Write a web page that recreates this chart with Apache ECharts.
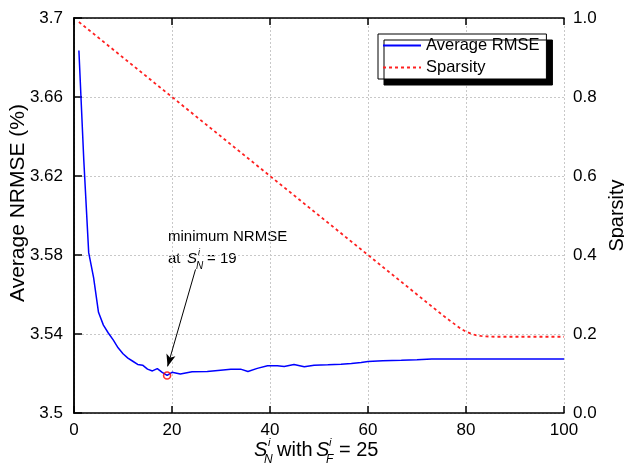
<!DOCTYPE html>
<html>
<head>
<meta charset="utf-8">
<script src="https://cdn.jsdelivr.net/npm/echarts@6/dist/echarts.min.js"></script>
<style>html,body{margin:0;padding:0;background:#fff}#c{width:624px;height:468px}</style>
</head>
<body>
<div id="c"></div>
<script>
// ---- data ----
const rmseX = [1, 2, 3, 4, 5, 6, 7, 8, 9, 10, 11, 12, 13, 14, 15, 16, 17, 18, 19, 20, 21.7, 24.1, 27.2, 29.9, 32, 34, 35.5, 37.4, 39.5, 41.5, 42.9, 44.9, 47, 49, 51.8, 54.5, 56.6, 58.6, 60, 63, 66.8, 70, 73, 80, 90, 100];
const rmseY = [3.6835, 3.628, 3.5812, 3.5685, 3.551, 3.5445, 3.5405, 3.5370, 3.5330, 3.5300, 3.5278, 3.5262, 3.5246, 3.5242, 3.5222, 3.5213, 3.5225, 3.5206, 3.5190, 3.5206, 3.5197, 3.5209, 3.5210, 3.5217, 3.5222, 3.5222, 3.5210, 3.5226, 3.5239, 3.5239, 3.5236, 3.5246, 3.5234, 3.5242, 3.5244, 3.5247, 3.5251, 3.5256, 3.5261, 3.5264, 3.5267, 3.5270, 3.5274, 3.5273, 3.5273, 3.5273];
const sparX = [1, 20, 75, 77, 78, 79, 80, 81, 82, 83, 84, 86, 100];
const sparY = [0.99, 0.80, 0.25, 0.231, 0.222, 0.213, 0.206, 0.201, 0.197, 0.195, 0.194, 0.193, 0.193];
const xTicks = [0, 20, 40, 60, 80, 100];
const yLeftTicks = [3.5, 3.54, 3.58, 3.62, 3.66, 3.7];
const yRightTicks = [0.0, 0.2, 0.4, 0.6, 0.8, 1.0];
const seriesNames = ['Average RMSE', 'Sparsity'];
const yLeftTitle = 'Average NRMSE (%)';
const yRightTitle = 'Sparsity';
// annotation arrow (data coordinates): tail and head
const arrowTail = [24.8, 3.5727];
const arrowHead = [19.1, 3.5236];

const FONT = 'Liberation Sans';
const rmseData = rmseX.map((x, i) => [x, rmseY[i]]);
const sparData = sparX.map((x, i) => [x, sparY[i]]);
let minIdx = 0;
rmseY.forEach((v, i) => { if (v < rmseY[minIdx]) minIdx = i; });

const chart = echarts.init(document.getElementById('c'), null, {renderer: 'canvas'});
const grid = {left: 74, right: 60, top: 18, bottom: 55, containLabel: false, outerBoundsMode: 'none'};
const axisLine = {show: true, lineStyle: {color: '#000', width: 1.5}};
const splitLine = {show: true, lineStyle: {color: '#c8c8c8', type: [2, 2], width: 1}};

const option = {
  animation: false,
  textStyle: {fontFamily: FONT},
  grid: grid,
  legend: {
    data: seriesNames,
    orient: 'vertical',
    left: 378, top: 34,
    padding: [3, 7, 3, 4],
    itemWidth: 38, itemHeight: 12, itemGap: 5,
    textStyle: {fontSize: 16.5, color: '#000', fontFamily: FONT},
    itemStyle: {opacity: 0},
    backgroundColor: '#fff',
    borderColor: '#000', borderWidth: 1,
    shadowColor: '#000', shadowBlur: 0, shadowOffsetX: 6, shadowOffsetY: 6,
    selectedMode: false
  },
  xAxis: [{
    type: 'value', min: xTicks[0], max: xTicks[xTicks.length - 1], interval: 20,
    axisLine: axisLine,
    axisTick: {show: true, inside: true, length: 7, lineStyle: {color: '#000', width: 1.5}},
    axisLabel: {fontSize: 17, color: '#000', margin: 9, fontFamily: FONT},
    splitLine: splitLine
  }, {
    type: 'value', position: 'top', min: xTicks[0], max: xTicks[xTicks.length - 1], interval: 20,
    axisLine: axisLine,
    axisTick: {show: true, inside: true, length: 7, lineStyle: {color: '#000', width: 1.5}},
    axisLabel: {show: false}, splitLine: {show: false}
  }],
  yAxis: [{
    type: 'value', min: yLeftTicks[0], max: yLeftTicks[yLeftTicks.length - 1], interval: 0.04,
    axisLine: axisLine,
    axisTick: {show: true, inside: true, length: 7, lineStyle: {color: '#000', width: 1.5}},
    axisLabel: {fontSize: 17, color: '#000', margin: 11, fontFamily: FONT,
      formatter: v => String(parseFloat(v.toFixed(2)))},
    splitLine: splitLine
  }, {
    type: 'value', position: 'right', min: yRightTicks[0], max: yRightTicks[yRightTicks.length - 1], interval: 0.2,
    name: yRightTitle, nameLocation: 'middle', nameGap: 34, nameRotate: 90,
    nameTextStyle: {fontSize: 20, color: '#000', fontFamily: FONT},
    axisLine: axisLine,
    axisTick: {show: true, inside: false, length: 8, lineStyle: {color: '#000', width: 1.5}},
    axisLabel: {fontSize: 17, color: '#000', margin: 9, fontFamily: FONT,
      formatter: v => v.toFixed(1)},
    splitLine: {show: false}
  }],
  series: [{
    name: seriesNames[0], type: 'line', xAxisIndex: 0, yAxisIndex: 0,
    data: rmseData, symbol: 'none', z: 3,
    lineStyle: {color: '#0000ff', width: 1.5}, itemStyle: {color: '#0000ff'},
    markLine: {
      silent: true, animation: false,
      symbol: ['none', 'arrow'], symbolSize: [7, 12],
      label: {show: false},
      lineStyle: {color: '#000', width: 1, type: 'solid'},
      data: [[{coord: arrowTail}, {coord: arrowHead}]]
    }
  }, {
    name: seriesNames[1], type: 'line', xAxisIndex: 0, yAxisIndex: 1,
    data: sparData, symbol: 'none', z: 2,
    lineStyle: {color: '#ff2020', width: 1.8, type: [3, 3]}, itemStyle: {color: '#ff2020'}
  }, {
    name: 'min', type: 'scatter', xAxisIndex: 0, yAxisIndex: 0,
    data: [rmseData[minIdx]], symbol: 'circle', symbolSize: 7, z: 5,
    itemStyle: {color: 'rgba(255,255,255,0)', borderColor: '#ff0000', borderWidth: 1.6}
  }],
  graphic: [
    // left y axis title
    {type: 'text', x: 18, y: 203, rotation: Math.PI / 2,
      style: {text: yLeftTitle, font: '21px "Liberation Sans"', fill: '#000', textAlign: 'center', textVerticalAlign: 'middle'}},
    // x axis title: S^i_N with S^i_F = 25
    {type: 'text', left: 254, top: 440, style: {text: 'S', font: 'italic 20px "Liberation Sans"', fill: '#000'}},
    {type: 'text', left: 268, top: 437, style: {text: 'i', font: 'italic 11px "Liberation Sans"', fill: '#000'}},
    {type: 'text', left: 264, top: 454, style: {text: 'N', font: 'italic 12px "Liberation Sans"', fill: '#000'}},
    {type: 'text', left: 277, top: 440, style: {text: 'with', font: '20px "Liberation Sans"', fill: '#000'}},
    {type: 'text', left: 316, top: 440, style: {text: 'S', font: 'italic 20px "Liberation Sans"', fill: '#000'}},
    {type: 'text', left: 329, top: 437, style: {text: 'i', font: 'italic 11px "Liberation Sans"', fill: '#000'}},
    {type: 'text', left: 326, top: 454, style: {text: 'F', font: 'italic 12px "Liberation Sans"', fill: '#000'}},
    {type: 'text', left: 339, top: 440, style: {text: '= 25', font: '20px "Liberation Sans"', fill: '#000'}},
    // annotation
    {type: 'text', left: 168, top: 229, style: {text: 'minimum NRMSE', font: '15px "Liberation Sans"', fill: '#000'}},
    {type: 'text', left: 168, top: 251, style: {text: 'at', font: '15px "Liberation Sans"', fill: '#000'}},
    {type: 'text', left: 187, top: 251, style: {text: 'S', font: 'italic 15px "Liberation Sans"', fill: '#000'}},
    {type: 'text', left: 198, top: 248, style: {text: 'i', font: 'italic 9px "Liberation Sans"', fill: '#000'}},
    {type: 'text', left: 196, top: 261, style: {text: 'N', font: 'italic 10px "Liberation Sans"', fill: '#000'}},
    {type: 'text', left: 207, top: 251, style: {text: '= 19', font: '15px "Liberation Sans"', fill: '#000'}}
  ]
};
chart.setOption(option);
</script>
</body>
</html>
